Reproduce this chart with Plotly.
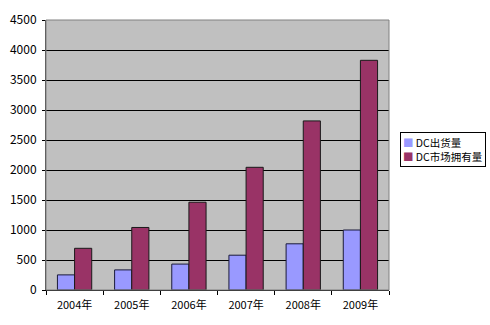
import plotly.graph_objects as go

years = ["2004年", "2005年", "2006年", "2007年", "2008年", "2009年"]
shipments = [252, 335, 432, 580, 770, 1000]
ownership = [695, 1042, 1463, 2045, 2818, 3828]
y_ticks = [0, 500, 1000, 1500, 2000, 2500, 3000, 3500, 4000, 4500]
names = ["DC出货量", "DC市场拥有量"]
colors = ["#9999FF", "#993366"]

font = "SimSun, 'Noto Sans CJK SC', sans-serif"

fig = go.Figure()
fig.add_trace(go.Bar(name=names[0], x=years, y=shipments,
                     marker=dict(color=colors[0], line=dict(color="#1a1a3a", width=1))))
fig.add_trace(go.Bar(name=names[1], x=years, y=ownership,
                     marker=dict(color=colors[1], line=dict(color="#1a1a1a", width=1))))

legend_text = "<br>".join(
    f"<span style='color:{c}'>■</span> {n}" for n, c in zip(names, colors)
)

fig.update_layout(
    width=490, height=325,
    margin=dict(l=40, r=101, t=10, b=35),
    paper_bgcolor="white", plot_bgcolor="#C0C0C0",
    barmode="group", bargap=0.4, bargroupgap=0,
    font=dict(family=font, size=11, color="black"),
    showlegend=False,
    annotations=[dict(xref="paper", yref="paper", x=1.031, y=0.585,
                      xanchor="left", yanchor="top", showarrow=False,
                      text=legend_text, align="left",
                      bordercolor="black", borderwidth=1, borderpad=2,
                      bgcolor="white", font=dict(size=10.5))],
    shapes=[dict(type="rect", xref="paper", yref="paper", x0=0, y0=0, x1=1, y1=1,
                 line=dict(color="#808080", width=1), layer="above")],
)
fig.update_xaxes(showline=True, linecolor="black", linewidth=1,
                 ticks="outside", tickson="boundaries", ticklen=4, tickcolor="black",
                 showgrid=False, tickfont=dict(size=11), ticklabelstandoff=5)
fig.update_yaxes(range=[0, 4500], tickvals=y_ticks, showline=True, linecolor="#404040",
                 ticks="outside", ticklen=3, tickcolor="black",
                 showgrid=True, gridcolor="black", gridwidth=1, zeroline=False,
                 tickfont=dict(size=12), ticklabelstandoff=3)

fig.write_html("out.html")
